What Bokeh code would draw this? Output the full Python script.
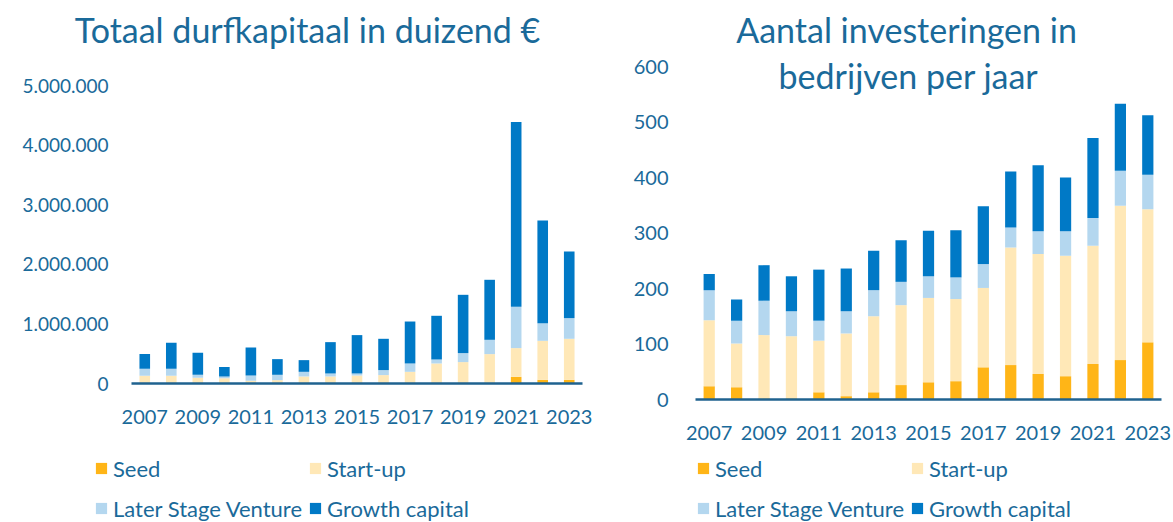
from bokeh.plotting import figure
from bokeh.models import (ColumnDataSource, Range1d, FixedTicker, Label, LabelSet,
                          Legend, LegendItem)
from bokeh.core.properties import value
from bokeh.layouts import row
from bokeh.embed import file_html
from bokeh.resources import INLINE

years = list(range(2007, 2024))
year_ticks = [2007, 2009, 2011, 2013, 2015, 2017, 2019, 2021, 2023]
series = ["Seed", "Start-up", "Later Stage Venture", "Growth capital"]

# Totaal durfkapitaal (in duizend euro)
cap_seed = [5000, 5000, 4000, 3000, 3000, 2000, 3000, 5000, 5000, 5000, 8000, 8000, 8000, 10000, 112000, 62000, 62000]
cap_startup = [125000, 124000, 92000, 87000, 42000, 54000, 115000, 113000, 129000, 136000, 188000, 328000, 351000, 483000, 482000, 654000, 688000]
cap_later = [118000, 118000, 50000, 28000, 89000, 90000, 78000, 50000, 34000, 84000, 140000, 67000, 151000, 240000, 693000, 297000, 347000]
cap_growth = [246000, 436000, 369000, 157000, 470000, 263000, 196000, 526000, 644000, 525000, 704000, 733000, 978000, 1007000, 3099000, 1722000, 1118000]
cap_ticks = [0, 1000000, 2000000, 3000000, 4000000, 5000000]
cap_tick_labels = ["0", "1.000.000", "2.000.000", "3.000.000", "4.000.000", "5.000.000"]

# Aantal investeringen in bedrijven per jaar
n_seed = [24, 22, 2, 2, 13, 6, 13, 26, 31, 33, 58, 62, 46, 42, 64, 71, 103]
n_startup = [119, 79, 114, 112, 93, 113, 137, 144, 152, 148, 143, 212, 216, 217, 213, 278, 240]
n_later = [54, 41, 62, 45, 36, 40, 47, 42, 39, 39, 43, 36, 41, 44, 50, 63, 62]
n_growth = [29, 38, 64, 63, 92, 77, 71, 75, 82, 85, 104, 101, 119, 97, 144, 121, 107]
n_ticks = [0, 100, 200, 300, 400, 500, 600]

colors = ["#FFB517", "#FFE8B7", "#B4D7EF", "#0079C6"]
TXT = "#1A6A9A"
AXC = "#1F628F"
FONT = "Lato"

H = 522   # canvas height; the plot frame spans the whole height


def make(width, frame_left, axis_left, axis_right, zero_px, top_px, top_val, bar_w,
         data, ticks, labels, ylab_size, label_right, year_mid):
    """Figure-local pixel layout: the frame runs from frame_left to the right edge;
    the category axis runs axis_left..axis_right; value 0 at zero_px, top_val at top_px."""
    frame_right = width
    px_per_year = (axis_right - axis_left) / len(years)
    x0 = years[0] - 0.5 - (axis_left - frame_left) / px_per_year
    x1 = years[-1] + 0.5 + (frame_right - axis_right) / px_per_year
    per_px = top_val / (zero_px - top_px)
    y0 = -(H - zero_px) * per_px
    y1 = top_val + top_px * per_px
    src = ColumnDataSource(dict(year=years, **{s: v for s, v in zip(series, data)}))
    p = figure(width=width, height=H, output_backend="svg", toolbar_location=None,
               x_range=Range1d(x0, x1), y_range=Range1d(y0, y1),
               x_axis_location=None,
               min_border_left=frame_left, min_border_right=0,
               min_border_top=0, min_border_bottom=0)
    p.outline_line_color = None
    p.xgrid.grid_line_color = None
    p.ygrid.grid_line_color = None
    rs = p.vbar_stack(series, x="year", width=bar_w, source=src, color=colors,
                      line_color=None)
    # category axis base line
    p.segment(x0=[years[0] - 0.5], y0=[0], x1=[years[-1] + 0.5], y1=[0],
              line_color=AXC, line_width=2.5)
    # year tick labels
    ysrc = ColumnDataSource(dict(x=year_ticks, t=[str(y) for y in year_ticks]))
    p.add_layout(LabelSet(x="x", y=H - year_mid, y_units="screen", text="t",
                          source=ysrc, text_align="center", text_baseline="middle",
                          text_font=value(FONT), text_font_size=value("20px"),
                          text_color=TXT))
    ya = p.yaxis[0]
    ya.ticker = FixedTicker(ticks=ticks)
    if labels is not None:
        ya.major_label_overrides = {t: l for t, l in zip(ticks, labels)}
    ya.axis_line_color = None
    ya.major_tick_line_color = None
    ya.minor_tick_line_color = None
    ya.major_tick_out = 0
    ya.major_tick_in = 0
    ya.major_label_text_font = FONT
    ya.major_label_text_font_size = ylab_size
    ya.major_label_text_color = TXT
    ya.major_label_standoff = frame_left - label_right
    return p, rs


def add_legend(p, rs, x, top):
    items = [LegendItem(label=s, renderers=[r]) for s, r in zip(series, rs)]
    label_h, gap = 34, 6
    leg_h = 2 * label_h + gap
    lg = Legend(items=items, location=(x, H - top - leg_h), orientation="horizontal",
                ncols=2, glyph_width=14, glyph_height=14, label_standoff=5,
                spacing=gap, label_height=label_h, padding=0, margin=0,
                border_line_color=None, background_fill_alpha=0,
                label_text_font=FONT, label_text_font_size="22px",
                label_text_color=TXT)
    p.add_layout(lg)


def title(p, x, mid, text):
    p.add_layout(Label(x=x, y=H - mid, x_units="screen", y_units="screen",
                       text=text, text_align="center", text_baseline="middle",
                       text_font=FONT, text_font_size="34px", text_color=TXT))


# left chart (page x 0..600): frame from x=50, axis 131..582, 0 at y=383, 5.000.000 at y=85
FL1 = 50
p1, r1 = make(600, FL1, 131, 582, 383, 85, 5000000, 0.4,
              [cap_seed, cap_startup, cap_later, cap_growth], cap_ticks,
              cap_tick_labels, "19px", 108, 416)
title(p1, 307 - FL1, 29, "Totaal durfkapitaal in duizend €")
add_legend(p1, r1, 94 - FL1, 451)

# right chart (page x 600..1173): frame from x=680, axis 695..1161, 0 at y=399, 600 at y=66
X2 = 600
FL2 = 80
p2, r2 = make(573, FL2, 695 - X2, 1161 - X2, 399, 66, 600, 0.41,
              [n_seed, n_startup, n_later, n_growth], n_ticks, None,
              "20px", 668 - X2, 432)
title(p2, 906 - X2 - FL2, 29, "Aantal investeringen in")
title(p2, 908 - X2 - FL2, 75, "bedrijven per jaar")
add_legend(p2, r2, 696 - X2 - FL2, 451)

layout = row(p1, p2, spacing=0)
open("out.html", "w").write(file_html(layout, INLINE))
